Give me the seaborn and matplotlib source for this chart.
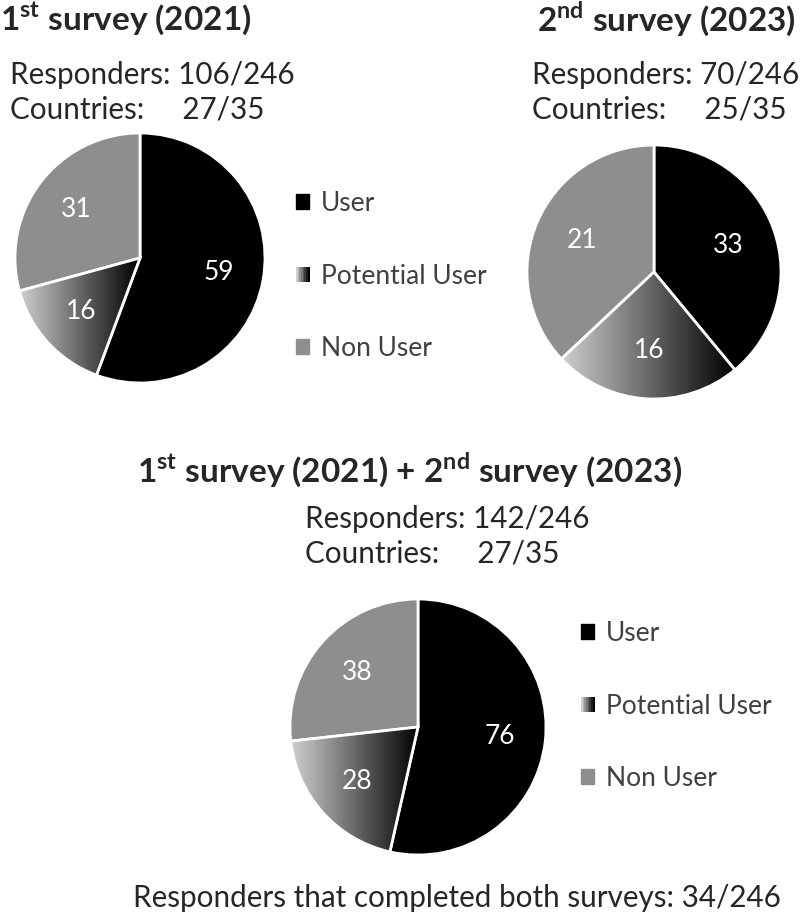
import numpy as np
import matplotlib
matplotlib.use('Agg')
import matplotlib.pyplot as plt
import seaborn as sns
from matplotlib.colors import LinearSegmentedColormap
from matplotlib.legend_handler import HandlerBase
from matplotlib.patches import Rectangle

categories = ['User', 'Potential User', 'Non User']
survey_2021 = [59, 16, 31]
survey_2023 = [33, 16, 21]
combined = [76, 28, 38]
# the 2023 pie in the source is not drawn to its labels; slice shares (%)
survey_2023_drawn = [39, 24, 37]
responders = ['106/246', '70/246', '142/246']
countries = ['27/35', '25/35', '27/35']
both_surveys = '34/246'

sns.set_theme(style='white')
plt.rcParams['font.family'] = ['Lato', 'DejaVu Sans']
plt.rcParams['mathtext.fontset'] = 'custom'
plt.rcParams['mathtext.rm'] = 'Lato'
plt.rcParams['mathtext.bf'] = 'Lato:bold'

W, H = 800, 923
fig = plt.figure(figsize=(W / 100, H / 100), dpi=100)
fig.patch.set_facecolor('white')

colors = ['#000000', '#555555', '#8e8e8e']
grad_cmap = LinearSegmentedColormap.from_list('grad', ['#d0d0d0', '#000000'])


def fx(x):
    return x / W


def fy(y):
    return 1 - y / H


class GradientHandler(HandlerBase):
    def create_artists(self, legend, orig_handle, xdescent, ydescent,
                       width, height, fontsize, trans):
        n = 8
        arts = []
        for i in range(n):
            c = grad_cmap(i / (n - 1))
            r = Rectangle((-xdescent + i * width / n, -ydescent), width / n + 0.3, height,
                          facecolor=c, edgecolor='none', transform=trans)
            arts.append(r)
        return arts


def draw_pie(sizes, labels, cx, cy, r, label_dist):
    ax = fig.add_axes([fx(cx - r), fy(cy + r), 2 * r / W, 2 * r / H])
    wedges, _ = ax.pie(sizes, colors=colors, startangle=90, counterclock=False,
                       wedgeprops=dict(edgecolor='white', linewidth=2))
    ax.axis('off')

    # gradient fill for the "Potential User" wedge
    w = wedges[1]
    ext = w.get_path().get_extents()
    im = ax.imshow(np.linspace(0, 1, 256).reshape(1, -1), cmap=grad_cmap, aspect='auto',
                   extent=[ext.x0, ext.x1, ext.y0, ext.y1], zorder=1)
    im.set_clip_path(w)
    w.set_facecolor('none')
    w.set_zorder(2)
    ax.set_xlim(-1, 1)
    ax.set_ylim(-1, 1)

    for wd, v in zip(wedges, labels):
        ang = np.deg2rad((wd.theta1 + wd.theta2) / 2)
        ax.text(label_dist * np.cos(ang), label_dist * np.sin(ang), str(v),
                color='white', fontsize=19, ha='center', va='center', zorder=3)
    return ax


def draw_legend(ax, x, y):
    grad_handle = Rectangle((0, 0), 1, 1, color=colors[1])
    handles = [Rectangle((0, 0), 1, 1, color=colors[0]), grad_handle,
               Rectangle((0, 0), 1, 1, color=colors[2])]
    ax.legend(handles, categories, loc='center left', bbox_to_anchor=(fx(x), fy(y)),
              bbox_transform=fig.transFigure, frameon=False, fontsize=19,
              labelspacing=1.8, handlelength=0.5, handleheight=0.5, borderpad=0,
              borderaxespad=0, handletextpad=0.45, labelcolor='#404040',
              handler_map={grad_handle: GradientHandler()})


ax1 = draw_pie(survey_2021, survey_2021, 140, 258, 125, 0.64)
draw_legend(ax1, 296, 276)
ax2 = draw_pie(survey_2023_drawn, survey_2023, 654, 272, 127, 0.62)
ax3 = draw_pie(combined, combined, 418, 727, 128, 0.64)
draw_legend(ax3, 581, 706)

big = 24
mid = 21.3
fig.text(fx(0), fy(19), r'1$^{\mathbf{st}}$ survey (2021)', fontsize=big, fontweight='bold',
         ha='left', va='center')
fig.text(fx(10), fy(75), f'Responders: {responders[0]}', fontsize=mid, ha='left', va='center')
fig.text(fx(10), fy(110), f'Countries:     {countries[0]}', fontsize=mid, ha='left', va='center')

fig.text(fx(796), fy(19), r'2$^{\mathbf{nd}}$ survey (2023)', fontsize=big, fontweight='bold',
         ha='right', va='center')
fig.text(fx(532), fy(75), f'Responders: {responders[1]}', fontsize=mid, ha='left', va='center')
fig.text(fx(532), fy(110), f'Countries:     {countries[1]}', fontsize=mid, ha='left', va='center')

fig.text(fx(410), fy(470), r'1$^{\mathbf{st}}$ survey (2021) + 2$^{\mathbf{nd}}$ survey (2023)',
         fontsize=big, fontweight='bold', ha='center', va='center')
fig.text(fx(305), fy(519), f'Responders: {responders[2]}', fontsize=mid, ha='left', va='center')
fig.text(fx(305), fy(554), f'Countries:     {countries[2]}', fontsize=mid, ha='left', va='center')

fig.text(fx(457), fy(898), f'Responders that completed both surveys: {both_surveys}',
         fontsize=mid, ha='center', va='center')

fig.savefig('out.png', dpi=100, facecolor='white')
